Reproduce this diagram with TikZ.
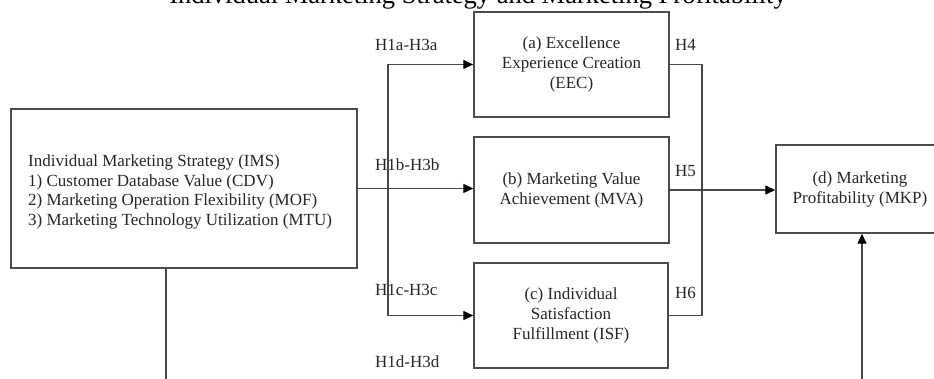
\documentclass[tikz,border=0pt]{standalone}
\usepackage{fontspec}
\setmainfont{Liberation Serif}
\usetikzlibrary{arrows.meta}
\begin{document}
\begin{tikzpicture}[x=1pt,y=-1pt,
  boxnode/.style={draw=black!70,line width=1.4pt,rectangle,inner sep=0pt,align=center,
     font=\fontsize{17}{20}\selectfont,text=black!85},
  lbl/.style={anchor=west,inner sep=0pt,font=\fontsize{17}{20}\selectfont,text=black!85},
  conn/.style={draw=black!72,line width=1.3pt},
  arr/.style={conn,-{Triangle[length=10pt,width=9pt,color=black]}}]
\useasboundingbox (0,0) rectangle (934,379);
\node[anchor=base,inner sep=0pt,font=\fontsize{26.5}{30}\selectfont] (title) at (478,4) {Individual Marketing Strategy and Marketing Profitability};
% boxes
\node[boxnode,minimum width=346pt,minimum height=159pt] (ims) at (184,188.5) {};
\node[anchor=west,inner sep=0pt,align=left,font=\fontsize{17}{19.7}\selectfont,text=black!85] (imstext) at (28,192)
  {Individual Marketing Strategy (IMS)\\1) Customer Database Value (CDV)\\2) Marketing Operation Flexibility (MOF)\\3) Marketing Technology Utilization (MTU)};
\node[boxnode,minimum width=195pt,minimum height=105pt] (eec) at (571.5,64.5) {(a) Excellence\\Experience Creation\\(EEC)};
\node[boxnode,minimum width=195pt,minimum height=106pt] (mva) at (571.5,190) {(b) Marketing Value\\Achievement (MVA)};
\node[boxnode,minimum width=194pt,minimum height=105pt] (isf) at (571,315.5) {(c) Individual\\Satisfaction\\Fulfillment (ISF)};
\node[boxnode,minimum width=168pt,minimum height=88pt] (mkp) at (860,189) {(d) Marketing\\Profitability (MKP)};
% labels
\node[lbl] (l1a) at (375,45) {H1a-H3a};
\node[lbl] (l1b) at (375,165) {H1b-H3b};
\node[lbl] (l1c) at (375,290) {H1c-H3c};
\node[lbl] (l1d) at (375,362) {H1d-H3d};
\node[lbl] (l4) at (675,45) {H4};
\node[lbl] (l5) at (675,171) {H5};
\node[lbl] (l6) at (675,293) {H6};
% coordinates
\coordinate (br) at (388,189);
\coordinate (rj) at (702,190);
\coordinate (imsdown) at (166,385);
\coordinate (mkpup) at (862,385);
% connectors
\draw[arr] (ims.east) -- (ims.east -| mva.west);
\draw[arr] (br) |- (eec.west);
\draw[arr] (br) |- (isf.west);
\draw[conn] (eec.east) -| (rj);
\draw[conn] (isf.east) -| (rj);
\draw[arr] (mva.east) -- (mva.east -| mkp.west);
\draw[conn] (ims.south -| imsdown) -- (imsdown);
\draw[arr] (mkpup) -- (mkpup |- mkp.south);
\end{tikzpicture}
\end{document}
